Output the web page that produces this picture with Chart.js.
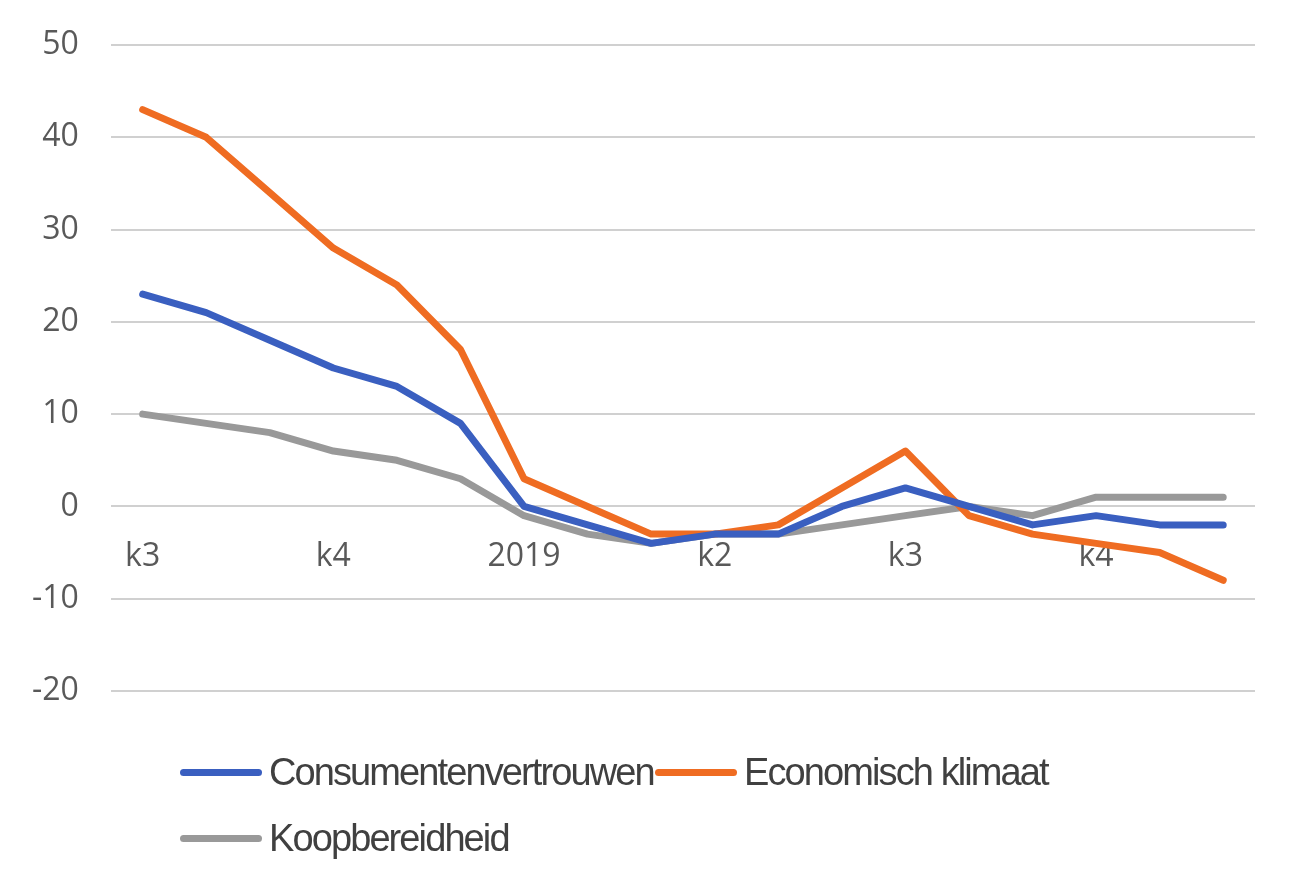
<!DOCTYPE html>
<html>
<head>
<meta charset="utf-8">
<script src="https://cdn.jsdelivr.net/npm/chart.js@4"></script>
<style>
  body { margin: 0; background: #fff; }
  #wrap { position: relative; width: 1299px; height: 893px; }
  .item { position: absolute; display: flex; align-items: center; height: 50px; white-space: nowrap;
          font-family: "Liberation Sans", sans-serif; font-size: 38px; letter-spacing: -1.9px; color: #404040; }
  .swatch { width: 82px; height: 7px; border-radius: 4px; margin-right: 7px; }
</style>
</head>
<body>
<div id="wrap">
  <canvas id="lineChart" width="1299" height="893"></canvas>
  <div id="legend"></div>
</div>
<script>
/* maandcijfers, vanaf juli 2018 */
const labels = ["k3", "", "", "k4", "", "", "2019", "", "", "k2", "", "", "k3", "", "", "k4", "", ""];
const consumentenvertrouwen = [23, 21, 18, 15, 13, 9, 0, -2, -4, -3, -3, 0, 2, 0, -2, -1, -2, -2];
const economischKlimaat = [43, 40, 34, 28, 24, 17, 3, 0, -3, -3, -2, 2, 6, -1, -3, -4, -5, -8];
const koopbereidheid = [10, 9, 8, 6, 5, 3, -1, -3, -4, -3, -3, -2, -1, 0, -1, 1, 1, 1];

const seriesNames = ["Consumentenvertrouwen", "Economisch klimaat", "Koopbereidheid"];
const seriesColors = ["#3a5fc0", "#ef6c22", "#999999"];

const CHART = document.getElementById("lineChart");
let lineChart = new Chart(CHART, {
    type: 'line',
    data: {
        labels: labels,
        datasets: [
            { label: seriesNames[0], data: consumentenvertrouwen, borderColor: seriesColors[0] },
            { label: seriesNames[1], data: economischKlimaat, borderColor: seriesColors[1] },
            { label: seriesNames[2], data: koopbereidheid, borderColor: seriesColors[2] }
        ].map(d => Object.assign(d, { borderWidth: 7, pointRadius: 0, tension: 0, fill: false, borderCapStyle: 'round', borderJoinStyle: 'round' }))
    },
    options: {
        responsive: false,
        animation: false,
        layout: { padding: { top: 45, right: 44, bottom: 202, left: 0 } },
        plugins: { legend: { display: false }, tooltip: { enabled: false } },
        scales: {
            x: {
                position: { y: 0 },
                offset: true,
                grid: { display: false },
                border: { display: false },
                ticks: { autoSkip: false, maxRotation: 0, padding: 23, color: '#595959', font: { family: 'Open Sans', size: 32 } }
            },
            y: {
                min: -20,
                max: 50,
                // tick padding should not push the plot down
                afterFit: (scale) => { scale.paddingTop = 0; },
                ticks: { stepSize: 10, padding: 32, color: '#595959', font: { family: 'Open Sans', size: 32 } },
                grid: { color: '#d0d0d0', lineWidth: 2, drawTicks: false },
                border: { display: false }
            }
        }
    }
});

// legenda onder de grafiek, zoals in Excel
const legendPos = [[180, 747], [655, 747], [180, 813]];
const legend = document.getElementById("legend");
seriesNames.forEach((name, i) => {
    const item = document.createElement("div");
    item.className = "item";
    item.style.left = legendPos[i][0] + "px";
    item.style.top = legendPos[i][1] + "px";
    item.innerHTML = '<span class="swatch" style="background:' + seriesColors[i] + '"></span><span>' + name + '</span>';
    legend.appendChild(item);
});
</script>
</body>
</html>
